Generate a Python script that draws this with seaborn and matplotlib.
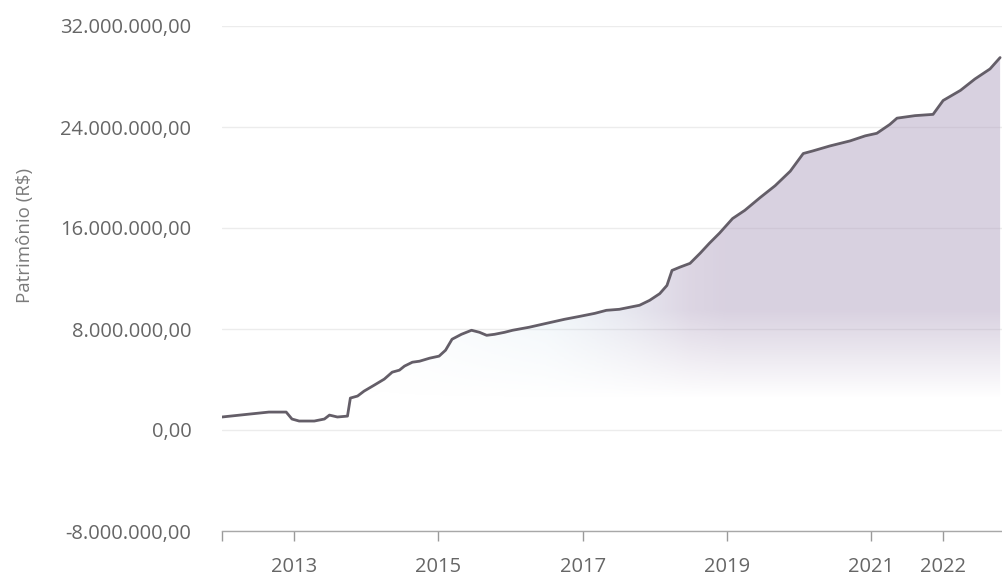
import numpy as np
import pandas as pd
import matplotlib
matplotlib.use("Agg")
import matplotlib.pyplot as plt
import seaborn as sns
from matplotlib.ticker import FuncFormatter

# ---- data (decimal year, patrimony in millions of R$) ----
anos = [2012.00, 2012.38, 2012.65, 2012.89, 2012.97, 2013.07, 2013.28, 2013.42,
        2013.49, 2013.60, 2013.74, 2013.78, 2013.88, 2013.97, 2014.11, 2014.25,
        2014.36, 2014.46, 2014.53, 2014.64, 2014.74, 2014.88, 2015.01, 2015.10,
        2015.19, 2015.32, 2015.46, 2015.57, 2015.67, 2015.78, 2015.92, 2016.03,
        2016.26, 2016.50, 2016.75, 2016.96, 2017.17, 2017.33, 2017.51, 2017.79,
        2017.93, 2018.07, 2018.17, 2018.24, 2018.35, 2018.49, 2018.63, 2018.76,
        2018.90, 2019.08, 2019.25, 2019.46, 2019.67, 2019.88, 2020.06, 2020.19,
        2020.43, 2020.71, 2020.92, 2021.08, 2021.26, 2021.36, 2021.61, 2021.86,
        2022.00, 2022.24, 2022.44, 2022.65, 2022.79]
patrimonio_mi = [1.03, 1.26, 1.42, 1.42, 0.87, 0.71, 0.71, 0.87,
                 1.18, 1.03, 1.10, 2.53, 2.69, 3.08, 3.55, 4.03,
                 4.58, 4.74, 5.06, 5.37, 5.45, 5.69, 5.85, 6.32,
                 7.19, 7.58, 7.90, 7.74, 7.50, 7.58, 7.74, 7.90,
                 8.14, 8.45, 8.77, 9.00, 9.24, 9.48, 9.56, 9.88,
                 10.27, 10.80, 11.45, 12.64, 12.90, 13.20, 14.00, 14.80,
                 15.60, 16.75, 17.40, 18.40, 19.35, 20.50, 21.90, 22.10,
                 22.50, 22.90, 23.30, 23.50, 24.20, 24.70, 24.90, 25.00,
                 26.10, 26.90, 27.80, 28.60, 29.50]
y_ticks = [-8e6, 0, 8e6, 16e6, 24e6, 32e6]
x_ticks = [2012, 2013, 2015, 2017, 2019, 2021, 2022]
x_tick_labels = ["", "2013", "2015", "2017", "2019", "2021", "2022"]
y_label = "Patrimônio (R$)"

sns.set_theme(style="white")
plt.rcParams["font.family"] = ["Open Sans", "DejaVu Sans"]

df = pd.DataFrame({"ano": anos, "patrimonio": np.array(patrimonio_mi) * 1e6})

W, H = 1003, 585
fig = plt.figure(figsize=(W / 100, H / 100), dpi=100)
ax = fig.add_axes([222 / W, 54 / H, (W - 222) / W, 505 / H])

x0, x1 = 2012.0, 2022.83
y0, y1 = -8e6, 32e6

# area under the line with soft gradient (scan-like pastel tint)
poly = ax.fill_between(df["ano"], df["patrimonio"], 0, facecolor="none", edgecolor="none")
nx, ny = 500, 400
gx = np.linspace(x0, x1, nx)
gy = np.linspace(y0, y1, ny)
GX, GY = np.meshgrid(gx, gy)
hfac = np.clip((GX - 2014.3) / (2019.0 - 2014.3), 0, 1)
vfac = np.clip((GY - 2.5e6) / 7e6, 0, 1)
alpha = (0.06 + 0.44 * hfac) * vfac
lav = np.array([0.70, 0.64, 0.76])
blue = np.array([0.80, 0.88, 0.93])
mix = np.clip((GX - 2016.5) / 2.0, 0, 1)[..., None]
rgb = blue * (1 - mix) + lav * mix
rgba = np.concatenate([rgb, alpha[..., None]], axis=2)
im = ax.imshow(rgba, extent=[x0, x1, y0, y1], origin="lower", aspect="auto",
               zorder=1, interpolation="bilinear")
im.set_clip_path(poly.get_paths()[0], transform=ax.transData)

sns.lineplot(data=df, x="ano", y="patrimonio", ax=ax, color="#645e68",
             linewidth=2.0, zorder=3)

ax.set_xlim(x0, x1)
ax.set_ylim(y0, y1)
ax.set_yticks(y_ticks)
ax.set_xticks(x_ticks)
ax.set_xticklabels(x_tick_labels)

fmt = lambda v, p: f"{v:,.2f}".replace(",", "X").replace(".", ",").replace("X", ".")
ax.yaxis.set_major_formatter(FuncFormatter(fmt))

ax.yaxis.grid(True, color="#ececec", linewidth=1.0, zorder=0)
ax.xaxis.grid(False)
for s in ["top", "right", "left"]:
    ax.spines[s].set_visible(False)
ax.spines["bottom"].set_color("#a8a8a8")
ax.spines["bottom"].set_linewidth(1.0)

ax.tick_params(axis="y", length=0, pad=22, labelsize=14.5, labelcolor="#666666")
ax.tick_params(axis="x", bottom=True, length=7, width=1, color="#9a9a9a",
               pad=12, labelsize=14.5, labelcolor="#666666")
ax.set_xlabel("")
ax.set_ylabel("")
fig.text(25 / W, 1 - 235 / H, y_label, rotation=90, ha="center", va="center",
         fontsize=13.5, color="#7a7a7a")

fig.savefig("out.png", dpi=100)
